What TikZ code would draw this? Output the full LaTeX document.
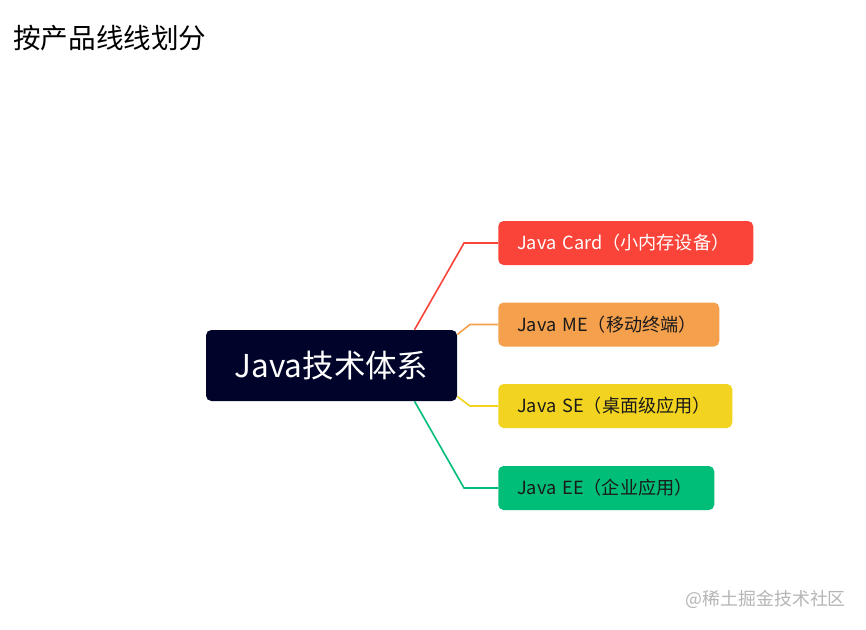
\documentclass[tikz,border=0pt]{standalone}
\usepackage{fontspec}
\setmainfont{Noto Sans CJK SC}
\newfontfamily\cjk{Noto Sans CJK SC}
\usetikzlibrary{calc}
\definecolor{cdark}{HTML}{00042A}
\definecolor{cred}{HTML}{FA443A}
\definecolor{corange}{HTML}{F5A04C}
\definecolor{cyellow}{HTML}{F2D420}
\definecolor{cgreen}{HTML}{00BD78}
\definecolor{ctext}{HTML}{1A1A1A}
\definecolor{cmark}{HTML}{B5B5B5}
\tikzset{
  central/.style={fill=cdark, rounded corners=4pt, text=white, minimum width=188.25pt, minimum height=53.25pt, inner sep=0pt, font=\cjk\fontsize{23.6}{27}\selectfont},
  childbox/.style={anchor=west, rounded corners=4pt, minimum height=33pt, inner xsep=14.25pt, inner ysep=0pt, align=left, font=\cjk\fontsize{13.6}{16}\selectfont},
  link/.style={line width=1.2pt},
}
\begin{document}
\begin{tikzpicture}[x=0.75pt,y=-0.75pt]
\useasboundingbox (0,0) rectangle (866,629);
\fill[white] (0,0) rectangle (866,629);
\node[anchor=west, inner sep=0pt, font=\cjk\fontsize{20.7}{24}\selectfont] (title) at (13,38) {按产品线线划分};
\node[central] (c) at (331.5,365.5) {Java技术体系};
\node[childbox, fill=cred, text=white, text width=162.75pt] (card) at (498,243) {Java Card（小内存设备）};
\node[childbox, fill=corange, text=ctext, text width=137.25pt] (me) at (498,324.5) {Java ME（移动终端）};
\node[childbox, fill=cyellow, text=ctext, text width=147pt] (se) at (498,406) {Java SE（桌面级应用）};
\node[childbox, fill=cgreen, text=ctext, text width=133.5pt] (ee) at (498,488) {Java EE（企业应用）};
\coordinate (kr) at (464,243);
\coordinate (ko) at (470,324.5);
\coordinate (ky) at (470,406);
\coordinate (kg) at (464,488);
\draw[link, cred] ($(c.north)+(83,0)$) -- (kr) -- (card.west);
\draw[link, corange] ($(c.east)+(0,-31)$) -- (ko) -- (me.west);
\draw[link, cyellow] ($(c.east)+(0,31)$) -- (ky) -- (se.west);
\draw[link, cgreen] ($(c.south)+(83,0)$) -- (kg) -- (ee.west);
\node[anchor=east, inner sep=0pt, text=cmark, font=\cjk\fontsize{13.4}{16}\selectfont] (mark) at (846,599) {@稀土掘金技术社区};
\end{tikzpicture}
\end{document}
